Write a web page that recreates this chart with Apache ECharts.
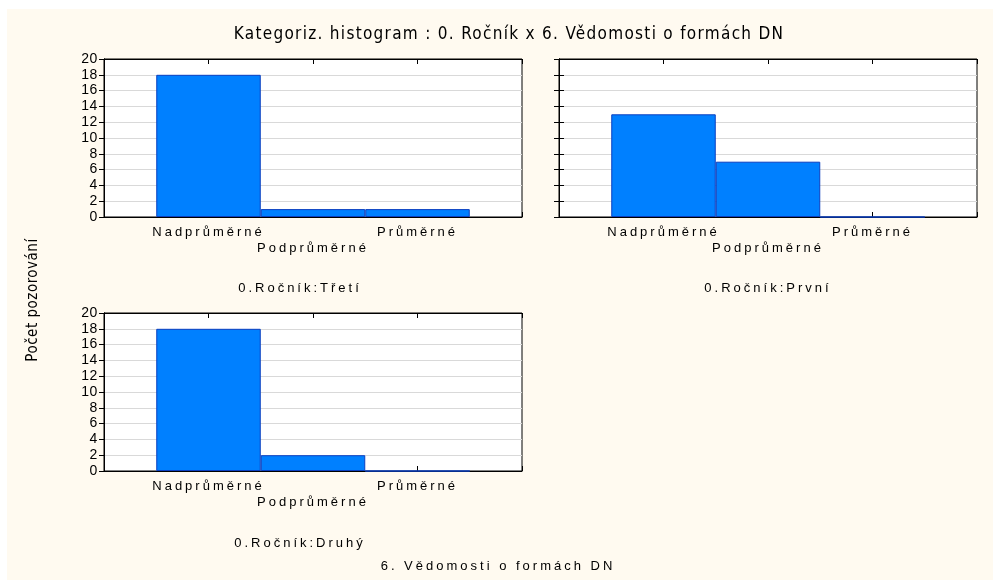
<!DOCTYPE html>
<html><head><meta charset="utf-8">
<script src="https://cdn.jsdelivr.net/npm/echarts@6/dist/echarts.min.js"></script>
<style>html,body{margin:0;padding:0;background:#fff}#c{width:993px;height:580px}</style>
</head><body><div id="c"></div>
<script>
// ---- data ----
const categories = ['Nadprůměrné', 'Podprůměrné', 'Průměrné'];
const panelLabels = ['0.Ročník:Třetí', '0.Ročník:První', '0.Ročník:Druhý'];
const valuesTreti = [18, 1, 1];
const valuesPrvni = [13, 7, 0];
const valuesDruhy = [18, 2, 0];
const yMin = 0, yMax = 20, yStep = 2;
const chartTitle = 'Kategoriz. histogram : 0. Ročník x 6. Vědomosti o formách DN';
const xTitle = '6. Vědomosti o formách DN';
const yTitle = 'Počet pozorování';

// Statistica-like wide letter spacing for labels
(function () {
  const p = CanvasRenderingContext2D.prototype;
  const orig = p.fillText;
  p.fillText = function (t, x, y, m) {
    if ('letterSpacing' in this) {
      const f = this.font;
      const narrow = /Narrow/.test(f);
      let s = '3px';
      if (narrow) s = /(^|\s)17px/.test(f) ? '1.3px' : '0.5px';
      else if (/(^|\s)14px/.test(f)) s = '0.6px';
      this.letterSpacing = s;
    }
    return m === undefined ? orig.call(this, t, x, y) : orig.call(this, t, x, y, m);
  };
})();

const FONT = '"Liberation Sans", Arial, Helvetica, sans-serif';
const NARROW = '"Liberation Sans Narrow", "Arial Narrow", "DejaVu Sans Condensed", sans-serif';
const panels = [
  { vals: valuesTreti, left: 104, top: 59, labels: true, lab: panelLabels[0], lx: 300, ly: 288 },
  { vals: valuesPrvni, left: 559, top: 59, labels: false, lab: panelLabels[1], lx: 768, ly: 288 },
  { vals: valuesDruhy, left: 104, top: 313, labels: true, lab: panelLabels[2], lx: 300, ly: 543 }
];
const GW = 418, GH = 158;
const grid = [], xAxis = [], yAxis = [], series = [];
panels.forEach((pn, i) => {
  grid.push({ left: pn.left, top: pn.top, width: GW, height: GH, show: true,
    backgroundColor: '#fff', borderColor: '#000', borderWidth: 1 });
  const xBase = { type: 'value', gridIndex: i, min: 0, max: categories.length + 1, interval: 1,
    splitLine: { show: false }, axisLine: { show: true, onZero: false, lineStyle: { color: '#000' } },
    axisTick: { show: true, inside: true, length: 5, lineStyle: { color: '#000' } } };
  xAxis.push(Object.assign({}, xBase, { position: 'bottom',
    axisLabel: { show: true, color: '#000', fontFamily: FONT, fontSize: 13, lineHeight: 16, margin: 7,
      formatter: v => { const k = Math.round(v) - 1; if (k < 0 || k >= categories.length) return '';
        return (k % 2 === 1 ? '\n' : '') + categories[k]; } } }));
  xAxis.push(Object.assign({}, xBase, { position: 'top', axisLabel: { show: false } }));
  const yBase = { type: 'value', gridIndex: i, min: yMin, max: yMax, interval: yStep,
    axisLine: { show: true, lineStyle: { color: '#000' } } };
  yAxis.push(Object.assign({}, yBase, { position: 'left',
    axisTick: { show: true, inside: !pn.labels, length: 5, lineStyle: { color: '#000' } },
    axisLabel: { show: pn.labels, color: '#000', fontFamily: FONT, fontSize: 14, margin: 6 },
    splitLine: { show: true, lineStyle: { color: '#d9d9d9', width: 1 } } }));
  yAxis.push(Object.assign({}, yBase, { position: 'right',
    axisTick: { show: true, inside: true, length: 5, lineStyle: { color: '#000' } },
    axisLabel: { show: false }, splitLine: { show: false } }));
  series.push({ type: 'bar', xAxisIndex: i * 2, yAxisIndex: i * 2, barWidth: GW / (categories.length + 1),
    data: pn.vals.map((v, k) => [k + 1, v]),
    itemStyle: { color: '#0080ff', borderColor: '#0a3fc0', borderWidth: 1 }, silent: true });
});

const graphic = [
  { type: 'rect', z: -10, shape: { x: 7, y: 9, width: 986, height: 571 }, style: { fill: '#fffaf0' } },
  { type: 'text', x: 509, y: 35, style: { text: chartTitle, font: '17px ' + NARROW, fill: '#000', textAlign: 'center', textVerticalAlign: 'middle' } },
  { type: 'text', x: 498, y: 566, style: { text: xTitle, font: '13px ' + FONT, fill: '#000', textAlign: 'center', textVerticalAlign: 'middle' } },
  { type: 'text', x: 33, y: 300, rotation: Math.PI / 2, style: { text: yTitle, font: '15px ' + NARROW, fill: '#000', textAlign: 'center', textVerticalAlign: 'middle' } }
];
panels.forEach(pn => graphic.push({ type: 'text', x: pn.lx, y: pn.ly,
  style: { text: pn.lab, font: '13px ' + FONT, fill: '#000', textAlign: 'center', textVerticalAlign: 'middle' } }));

const chart = echarts.init(document.getElementById('c'), null, { renderer: 'canvas' });
chart.setOption({ backgroundColor: '#fff', animation: false, grid, xAxis, yAxis, series, graphic });
</script>
</body></html>
